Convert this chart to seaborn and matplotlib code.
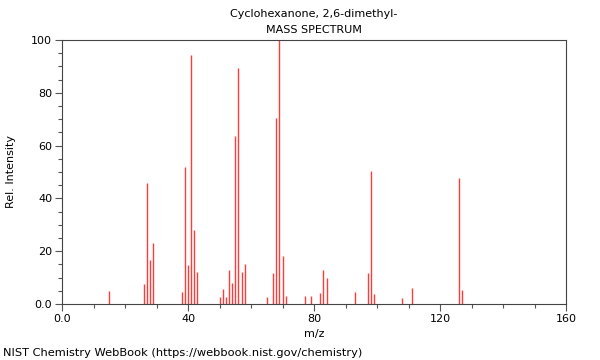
import matplotlib
matplotlib.use("Agg")
import matplotlib.pyplot as plt
from matplotlib.ticker import MultipleLocator, FixedFormatter, FixedLocator
import seaborn as sns

# peaks (m/z, relative intensity)
mz = [15, 26, 27, 28, 29, 38, 39, 40, 41, 42, 43,
      50, 51, 52, 53, 54, 55, 56, 57, 58,
      65, 67, 68, 69, 70, 71, 77, 79, 82, 83, 84,
      93, 97, 98, 99, 108, 111, 126, 127]
intensity = [4.9, 7.4, 46.0, 16.6, 23.2, 4.5, 51.8, 14.8, 94.2, 28.0, 12.1,
             2.8, 5.7, 2.8, 12.9, 8.0, 63.5, 89.4, 12.1, 15.2,
             2.5, 11.6, 70.6, 100.0, 18.2, 3.0, 3.0, 3.0, 4.3, 12.9, 10.0,
             4.5, 11.7, 50.4, 3.8, 2.3, 5.9, 47.8, 5.2]

title_lines = ["Cyclohexanone, 2,6-dimethyl-", "MASS SPECTRUM"]
x_ticks = [0, 40, 80, 120, 160]
x_labels = ["0.0", "40", "80", "120", "160"]
y_ticks = [0, 20, 40, 60, 80, 100]
y_labels = ["0.0", "20", "40", "60", "80", "100"]

sns.set_style("ticks")
plt.rcParams["font.family"] = ["DejaVu Sans"]
plt.rcParams["font.size"] = 8
plt.rcParams["text.color"] = "black"
plt.rcParams["axes.labelcolor"] = "black"
plt.rcParams["xtick.labelcolor"] = "black"
plt.rcParams["ytick.labelcolor"] = "black"

fig = plt.figure(figsize=(6, 3.6), dpi=100)
ax = fig.add_axes([62 / 600, 1 - 304 / 360, 504 / 600, 264 / 360])

ax.vlines(mz, 0, intensity, color="#ff3b3b", linewidth=1)

ax.set_xlim(0, 160)
ax.set_ylim(0, 100)
ax.xaxis.set_major_locator(FixedLocator(x_ticks))
ax.xaxis.set_major_formatter(FixedFormatter(x_labels))
ax.xaxis.set_minor_locator(MultipleLocator(10))
ax.yaxis.set_major_locator(FixedLocator(y_ticks))
ax.yaxis.set_major_formatter(FixedFormatter(y_labels))
ax.yaxis.set_minor_locator(MultipleLocator(5))

ax.tick_params(axis="both", which="major", length=5, width=0.8, color="#555555",
               labelsize=8, pad=2, labelcolor="black")
ax.tick_params(axis="both", which="minor", length=3, width=0.8, color="#555555")
for side in ["top", "right", "left", "bottom"]:
    ax.spines[side].set_visible(True)
    ax.spines[side].set_color("#444444")
    ax.spines[side].set_linewidth(0.8)

ax.set_xlabel("m/z", fontsize=8, labelpad=4, color="black")
ax.set_ylabel("Rel. Intensity", fontsize=8, labelpad=11, color="black")

fig.text(314 / 600, 1 - 14 / 360, title_lines[0], ha="center", va="center", fontsize=8)
fig.text(314 / 600, 1 - 30 / 360, title_lines[1], ha="center", va="center", fontsize=8)
fig.text(3 / 600, 1 - 353 / 360, "NIST Chemistry WebBook (https://webbook.nist.gov/chemistry)",
         ha="left", va="center", fontsize=8.2)

fig.savefig("out.png", dpi=100)
